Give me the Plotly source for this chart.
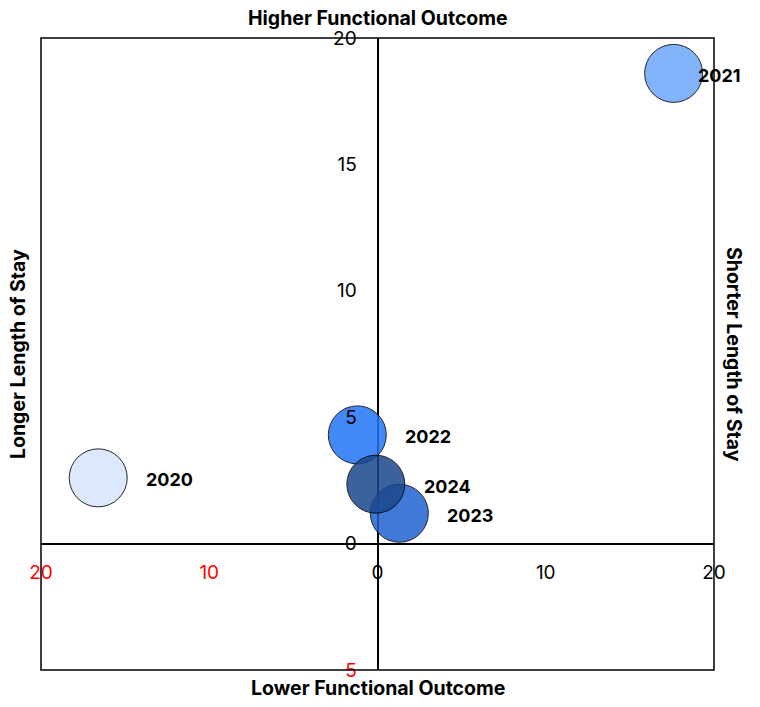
import plotly.graph_objects as go

# Data
years = ["2020", "2021", "2022", "2023", "2024"]
functional_outcome = [-16.6, 17.6, -1.2, 1.3, -0.1]   # x
length_of_stay = [2.6, 18.6, 4.3, 1.2, 2.35]           # y
colors = ["#d5e4fd", "#6aa6fa", "#2275f6", "#1f63d0", "#1b478d"]

x_tickvals = [-20, -10, 0, 10, 20]
y_tickvals = [-5, 0, 5, 10, 15, 20]

def tick_text(v):
    if v < 0:
        return f'<span style="color:red">{abs(v)}</span>'
    return str(v)

FONT = "Inter"

fig = go.Figure()
for yr, xv, yv, c in zip(years, functional_outcome, length_of_stay, colors):
    fig.add_trace(go.Scatter(
        x=[xv], y=[yv], mode="markers", name=yr,
        marker=dict(size=58, color=c, opacity=0.85,
                    line=dict(color="black", width=1)),
        showlegend=False, hoverinfo="text", text=[yr],
    ))

label_shift = {"2021": 22}
for yr, xv, yv in zip(years, functional_outcome, length_of_stay):
    fig.add_annotation(
        x=xv, y=yv, text=f"<b>{yr}</b>", showarrow=False,
        xanchor="left", yanchor="middle",
        xshift=label_shift.get(yr, 46), yshift=-2,
        font=dict(family=FONT, size=18, color="black"),
    )

title_font = dict(family=FONT, size=19.5, color="black")
fig.add_annotation(x=0.5, y=1, xref="paper", yref="paper", yshift=20,
                   text="<b>Higher Functional Outcome</b>", showarrow=False,
                   font=title_font, yanchor="middle")
fig.add_annotation(x=0.5, y=0, xref="paper", yref="paper", yshift=-18,
                   text="<b>Lower Functional Outcome</b>", showarrow=False,
                   font=title_font, yanchor="middle")
fig.add_annotation(x=0, y=0.5, xref="paper", yref="paper", xshift=-23,
                   text="<b>Longer Length of Stay</b>", showarrow=False,
                   font=title_font, textangle=-90, xanchor="center")
fig.add_annotation(x=1, y=0.5, xref="paper", yref="paper", xshift=20,
                   text="<b>Shorter Length of Stay</b>", showarrow=False,
                   font=title_font, textangle=90, xanchor="center")

fig.add_shape(type="rect", xref="paper", yref="paper", x0=0, y0=0, x1=1, y1=1,
              line=dict(color="black", width=1.5), layer="above")

fig.update_xaxes(
    range=[-20, 20], tickvals=x_tickvals,
    ticktext=[tick_text(v) for v in x_tickvals],
    showgrid=False, zeroline=True, zerolinecolor="black", zerolinewidth=1.5,
    showline=False, anchor="free", position=0.2,
    ticks="outside", ticklen=12, tickcolor="rgba(0,0,0,0)",
    tickfont=dict(family=FONT, size=19, color="black"),
    fixedrange=True,
)
fig.update_yaxes(
    range=[-5, 20], tickvals=y_tickvals,
    ticktext=[tick_text(v) for v in y_tickvals],
    showgrid=False, zeroline=True, zerolinecolor="black", zerolinewidth=1.5,
    showline=False, anchor="free", position=0.5,
    ticks="outside", ticklen=17, tickcolor="rgba(0,0,0,0)",
    tickfont=dict(family=FONT, size=19, color="black"),
    fixedrange=True,
)

fig.update_layout(
    width=760, height=707,
    margin=dict(l=33, r=54, t=30, b=45),
    plot_bgcolor="white", paper_bgcolor="white",
    font=dict(family=FONT),
)

fig.write_html("out.html")
